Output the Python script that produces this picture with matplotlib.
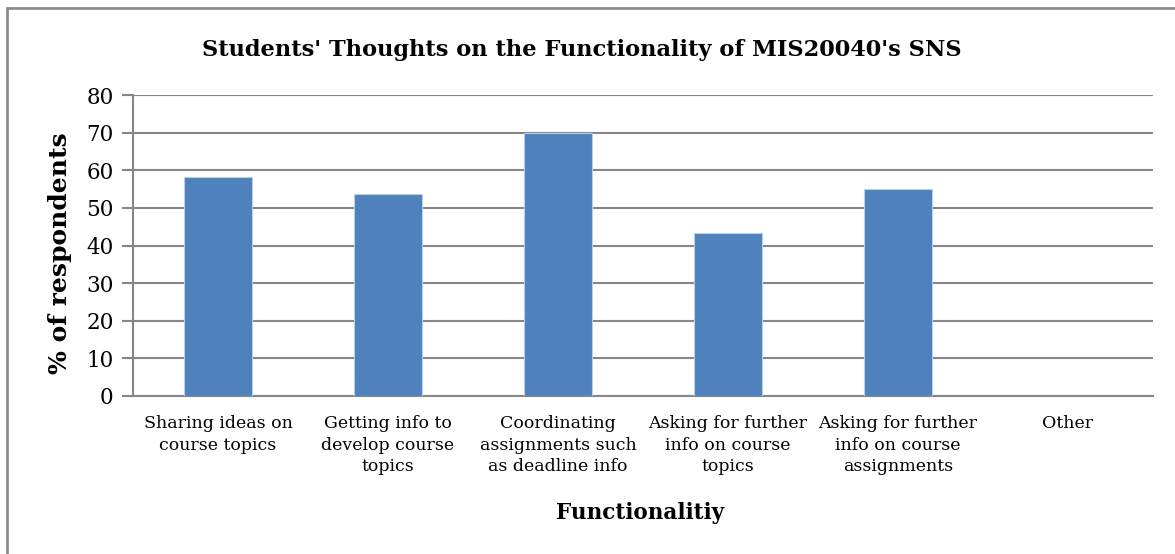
import matplotlib
matplotlib.use("Agg")
import matplotlib.pyplot as plt
from matplotlib.patches import Rectangle

categories = [
    "Sharing ideas on\ncourse topics",
    "Getting info to\ndevelop course\ntopics",
    "Coordinating\nassignments such\nas deadline info",
    "Asking for further\ninfo on course\ntopics",
    "Asking for further\ninfo on course\nassignments",
    "Other",
]
values = [58.1, 53.7, 70.0, 43.2, 55.0, 0.0]
yticks = [0, 10, 20, 30, 40, 50, 60, 70, 80]

title = "Students' Thoughts on the Functionality of MIS20040's SNS"
xlabel = "Functionalitiy"
ylabel = "% of respondents"

serif = ["DejaVu Serif"]
grid_col = "#868686"

fig = plt.figure(figsize=(11.75, 5.54), dpi=100)
ax = fig.add_axes([133/1175, 1-396/554, (1153-133)/1175, (396-95)/554])

x = list(range(len(categories)))
ax.bar(x, values, width=0.4, color="#4F81BD", edgecolor="#B9CDE5", linewidth=0.8, zorder=3)

ax.set_xlim(-0.5, len(categories) - 0.5)
ax.set_ylim(0, 80)
ax.set_yticks(yticks)
ax.set_yticklabels([str(v) for v in yticks], family=serif, fontsize=15.5)
ax.set_xticks(x)
ax.set_xticklabels(categories, family=serif, fontsize=12.5, linespacing=1.33, va="top")
ax.tick_params(axis="x", length=0, pad=14)
ax.tick_params(axis="y", length=8, width=1.5, color=grid_col, pad=6)

ax.yaxis.grid(True, color=grid_col, linewidth=1.5, zorder=0)
ax.set_axisbelow(True)
for s in ["top", "right"]:
    ax.spines[s].set_visible(False)
for s in ["left", "bottom"]:
    ax.spines[s].set_color(grid_col)
    ax.spines[s].set_linewidth(1.5)

fig.text(582/1175, 1-50/554, title, ha="center", va="center", family=serif,
         fontweight="heavy", fontsize=16.2)
fig.text(640/1175, 1-513/554, xlabel, ha="center", va="center", family=serif,
         fontweight="bold", fontsize=15.5)
fig.text(60/1175, 1-253/554, ylabel, ha="center", va="center", family=serif,
         fontweight="bold", fontsize=18, rotation=90)

fig.patches.append(Rectangle((7/1175, -0.1), 1.2, 1 - 8/554 + 0.1, transform=fig.transFigure,
                             fill=False, edgecolor="#8c8c8c", linewidth=2))

fig.savefig("out.png", dpi=100)
